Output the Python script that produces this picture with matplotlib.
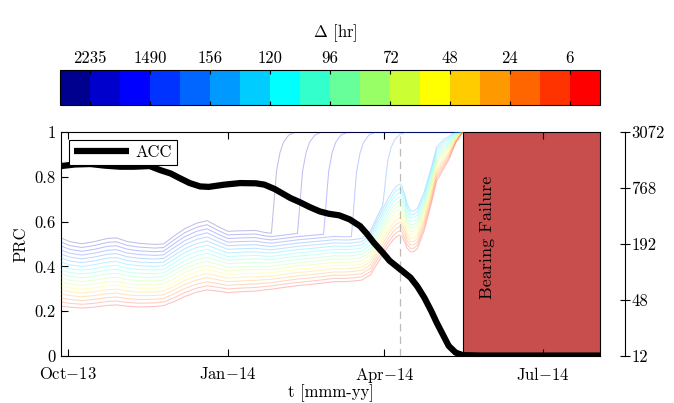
import numpy as np
import matplotlib
matplotlib.use('Agg')
import matplotlib.pyplot as plt
from matplotlib.colors import ListedColormap, BoundaryNorm
from matplotlib.cm import ScalarMappable

plt.rcParams['font.family'] = 'serif'
plt.rcParams['font.serif'] = ['cmr10']
plt.rcParams['mathtext.fontset'] = 'cm'
plt.rcParams['axes.formatter.use_mathtext'] = True
plt.rcParams['axes.unicode_minus'] = False

# ---------------- data ----------------
delta_colors = ['#00008F', '#0000CC', '#0000FF', '#0033FF', '#0066FF', '#0099FF',
                '#00CCFF', '#00FFFF', '#33FFCC', '#66FF99', '#99FF66', '#CCFF33',
                '#FFFF00', '#FFCC00', '#FF9900', '#FF6600', '#FF3300', '#FF0000']
delta_tick_pos = [1, 3, 5, 7, 9, 11, 13, 15, 17]
delta_tick_labels = ['2235', '1490', '156', '120', '96', '72', '48', '24', '6']

acc_dates = ['2013-09-27', '2013-10-05', '2013-10-14', '2013-10-22', '2013-10-31',
             '2013-11-08', '2013-11-17', '2013-11-23', '2013-11-29', '2013-12-04',
             '2013-12-10', '2013-12-16', '2013-12-21', '2013-12-30', '2014-01-08',
             '2014-01-17', '2014-01-22', '2014-01-28', '2014-02-06', '2014-02-11',
             '2014-02-17', '2014-02-23', '2014-02-28', '2014-03-06', '2014-03-12',
             '2014-03-18', '2014-03-22', '2014-03-26', '2014-03-31', '2014-04-04',
             '2014-04-08', '2014-04-12', '2014-04-16', '2014-04-20', '2014-04-24',
             '2014-04-28', '2014-05-01', '2014-05-05', '2014-05-08', '2014-05-12',
             '2014-05-16', '2014-05-26', '2014-08-03']
acc_values = [0.848, 0.855, 0.857, 0.850, 0.845,
              0.845, 0.848, 0.830, 0.815, 0.795,
              0.772, 0.757, 0.755, 0.765, 0.772,
              0.771, 0.765, 0.745, 0.705, 0.688,
              0.665, 0.645, 0.635, 0.628, 0.610,
              0.580, 0.545, 0.505, 0.462, 0.425,
              0.400, 0.375, 0.350, 0.310, 0.260,
              0.200, 0.150, 0.090, 0.045, 0.015,
              0.004, 0.002, 0.002]

prc_dates = ['2013-09-27', '2013-10-02', '2013-10-09', '2013-10-16', '2013-10-24',
             '2013-10-29', '2013-11-04', '2013-11-11', '2013-11-20', '2013-11-25',
             '2013-12-01', '2013-12-07', '2013-12-14', '2013-12-20', '2013-12-26',
             '2014-01-01', '2014-01-08', '2014-01-17', '2014-01-22', '2014-01-26',
             '2014-02-01', '2014-02-10', '2014-02-17', '2014-02-25', '2014-03-03',
             '2014-03-09', '2014-03-13', '2014-03-19', '2014-03-24', '2014-03-28',
             '2014-03-31', '2014-04-03', '2014-04-06', '2014-04-08', '2014-04-10',
             '2014-04-11', '2014-04-13', '2014-04-14', '2014-04-16', '2014-04-18',
             '2014-04-20', '2014-04-24', '2014-04-28', '2014-05-01', '2014-05-05',
             '2014-05-08', '2014-05-12', '2014-05-16']
# PRC of the lowest (6 hr) curve
prc_lowest = [0.223, 0.218, 0.214, 0.218, 0.226,
              0.228, 0.222, 0.219, 0.221, 0.225,
              0.243, 0.265, 0.285, 0.295, 0.290,
              0.283, 0.287, 0.290, 0.295, 0.298,
              0.305, 0.314, 0.319, 0.326, 0.332,
              0.332, 0.334, 0.339, 0.362, 0.414,
              0.450, 0.488, 0.518, 0.533, 0.540,
              0.535, 0.503, 0.482, 0.465, 0.466,
              0.480, 0.562, 0.680, 0.780, 0.835,
              0.875, 0.950, 1.000]
# vertical gap between neighbouring Δ curves
prc_spacing = [0.0179, 0.0172, 0.0169, 0.0172, 0.0176,
               0.0176, 0.0170, 0.0167, 0.0163, 0.0162,
               0.0172, 0.0178, 0.0181, 0.0182, 0.0170,
               0.0161, 0.0160, 0.0159, 0.0151, 0.0147,
               0.0146, 0.0146, 0.0146, 0.0145, 0.0144,
               0.0143, 0.0142, 0.0143, 0.0150, 0.0162,
               0.0170, 0.0178, 0.0185, 0.0188, 0.0190,
               0.0188, 0.0175, 0.0165, 0.0152, 0.0151,
               0.0150, 0.0145, 0.0135, 0.0127, 0.0110,
               0.0087, 0.0045, 0.0]
# dates on which the longest-horizon curves jump to PRC = 1
jump_dates = ['2014-01-26', '2014-02-10', '2014-02-25', '2014-03-13', '2014-03-31']
jump_days = [0, 1, 2, 3, 5, 7, 10, 14]
jump_frac = [0, 0.2, 0.42, 0.62, 0.8, 0.9, 0.97, 1.0]

failure_date = '2014-05-16'
marker_date = '2014-04-10'
x_start, x_end = '2013-09-27', '2014-08-03'
month_ticks = ['2013-10-01', '2014-01-01', '2014-04-01', '2014-07-01']
month_labels = ['Oct$-$13', 'Jan$-$14', 'Apr$-$14', 'Jul$-$14']
prc_ticks = [0, 0.2, 0.4, 0.6, 0.8, 1]
prc_tick_labels = ['0', '0.2', '0.4', '0.6', '0.8', '1']
delta_axis_ticks = [12, 48, 192, 768, 3072]
delta_axis_labels = ['12', '48', '192', '768', '3072']

# ---------------- figure ----------------
W, H = 674, 403
fig = plt.figure(figsize=(W / 100, H / 100), dpi=100)
ax = fig.add_axes([61 / W, 47 / H, 539 / W, 224 / H])
cax = fig.add_axes([60 / W, (H - 105) / H, 540 / W, 35 / H])

FS = 12
d = lambda s: np.array(s, dtype='datetime64[D]')

# failure region
ax.axvspan(d(failure_date), d(x_end), ymin=0, ymax=1, facecolor='#C84E4E',
           edgecolor='black', lw=0.8, zorder=1)
ax.text(d('2014-05-30'), 0.53, 'Bearing Failure', rotation=90, ha='center',
        va='center', fontsize=13, zorder=6)

# dashed marker
ax.plot([d(marker_date), d(marker_date)], [0, 1], color='#BBBBBB', lw=0.9,
        ls=(0, (6, 4)), zorder=1.5)

# PRC curves
pdates = d(prc_dates)
lo = np.array(prc_lowest)
sp = np.array(prc_spacing)
n = len(delta_colors)
for k in range(n):
    vals = lo + (n - 1 - k) * sp
    x, y = pdates, vals
    if k < len(jump_dates):
        jd = d(jump_dates[k])
        keep = pdates <= jd
        v0 = vals[keep][-1]
        jx = jd + np.array(jump_days).astype('timedelta64[D]')
        jy = v0 + (1 - v0) * np.array(jump_frac)
        x = np.concatenate([pdates[keep], jx[1:], [d(failure_date)]])
        y = np.concatenate([vals[keep], jy[1:], [1.0]])
    ax.plot(x, y, color=delta_colors[k], lw=0.75, alpha=0.25, zorder=2)

# ACC
ax.plot(d(acc_dates), acc_values, color='black', lw=4.5, zorder=3,
        solid_capstyle='butt', label='ACC')

ax.set_xlim(d(x_start), d(x_end))
ax.set_ylim(0, 1)
ax.set_xticks(d(month_ticks))
ax.set_xticklabels(month_labels)
ax.set_yticks(prc_ticks)
ax.set_yticklabels(prc_tick_labels)
ax.tick_params(axis='x', direction='in', length=5, top=True, bottom=True,
               labelsize=FS, pad=7, width=0.8)
ax.tick_params(axis='y', direction='in', length=5, left=True, right=False,
               labelsize=FS, pad=4, width=0.8)
for s in ax.spines.values():
    s.set_linewidth(0.8)
    s.set_zorder(0.5)
ax.set_xlabel('t [mmm-yy]', fontsize=FS, labelpad=0)
ax.set_ylabel('PRC', fontsize=FS, labelpad=4)

leg = ax.legend(loc='upper left', fontsize=FS, handlelength=3.3,
                borderaxespad=0.45, fancybox=False, framealpha=1,
                edgecolor='black', borderpad=0.3, handletextpad=0.4)
leg.get_frame().set_linewidth(0.8)
leg.set_zorder(7)

# right Δ axis
ax2 = ax.twinx()
ax2.set_yscale('log')
ax2.set_ylim(12, 3072)
ax2.set_yticks(delta_axis_ticks)
ax2.set_yticklabels(delta_axis_labels)
ax2.minorticks_off()
for nm in ['top', 'left', 'bottom']:
    ax2.spines[nm].set_visible(False)
ax2.spines['right'].set_position(('outward', 18))
ax2.spines['right'].set_linewidth(0.8)
ax2.tick_params(axis='y', direction='inout', length=7, width=0.8,
                labelsize=FS, pad=1)

# colorbar
cmap = ListedColormap(delta_colors)
norm = BoundaryNorm(np.arange(n + 1), n)
cb = fig.colorbar(ScalarMappable(norm=norm, cmap=cmap), cax=cax,
                  orientation='horizontal', ticks=delta_tick_pos)
cb.set_ticklabels(delta_tick_labels)
cb.minorticks_off()
cb.outline.set_linewidth(0.8)
cax.xaxis.set_ticks_position('both')
cax.tick_params(axis='x', direction='in', length=3, width=0.8, labeltop=True,
                labelbottom=False, labelsize=FS, pad=3)
fig.text(335 / W, 1 - 33 / H, r'$\Delta$ [hr]', ha='center', va='center',
         fontsize=FS)

fig.savefig('out.png', dpi=100)
